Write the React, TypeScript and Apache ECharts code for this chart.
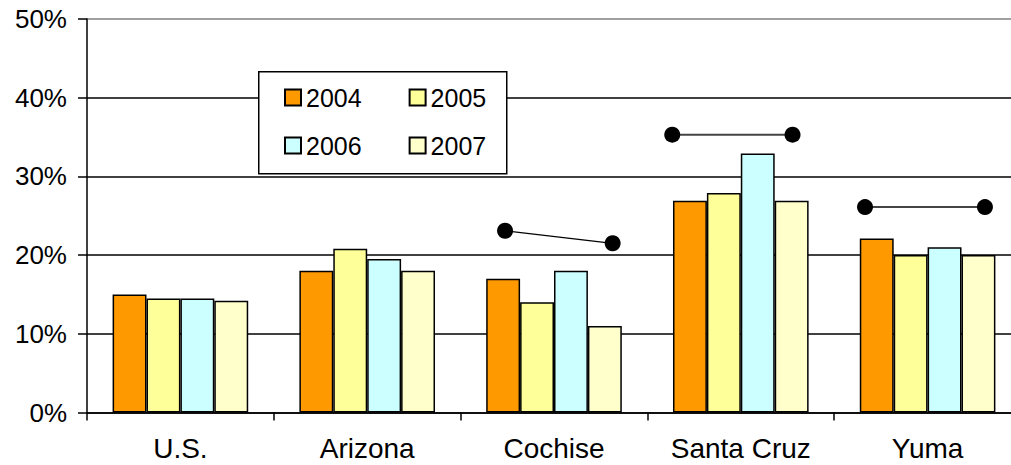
import React, { useEffect, useRef } from "react";
import * as echarts from "echarts";

const categories = ["U.S.", "Arizona", "Cochise", "Santa Cruz", "Yuma"];
const years = ["2004", "2005", "2006", "2007"];
const v2004 = [15.0, 18.0, 17.0, 26.9, 22.1];
const v2005 = [14.5, 20.8, 14.0, 27.9, 20.0];
const v2006 = [14.5, 19.5, 18.0, 32.9, 21.0];
const v2007 = [14.2, 18.0, 11.0, 26.9, 20.0];
const barColors = ["#FF9900", "#FFFF99", "#CCFFFF", "#FFFFCC"];
const yTicks = [0, 10, 20, 30, 40, 50];

// Marker pairs: [position along category axis (category index + fraction), value %]
const cochiseDots = [[2.238, 23.1], [2.814, 21.5]];
const santaCruzDots = [[3.133, 35.3], [3.777, 35.3]];
const yumaDots = [[4.165, 26.1], [4.807, 26.1]];

const FONT = "'Liberation Sans', Arial, sans-serif";

export default function App() {
  const ref = useRef<HTMLDivElement>(null);
  useEffect(() => {
    if (!ref.current) return;
    const chart = echarts.init(ref.current, null, { renderer: "svg" });
    const values = [v2004, v2005, v2006, v2007];
    const barSeries = years.map((y, i) => ({
      name: y,
      type: "bar",
      xAxisIndex: 0,
      yAxisIndex: 0,
      data: values[i],
      barGap: "0%",
      barCategoryGap: "27.4%",
      itemStyle: { color: barColors[i], borderColor: "#000", borderWidth: 1.5 },
      z: 2,
    }));
    const dotSeries = [
      { data: cochiseDots, lw: 1.2, lc: "#000" },
      { data: santaCruzDots, lw: 2, lc: "#444" },
      { data: yumaDots, lw: 2, lc: "#444" },
    ].map((d) => ({
      type: "line",
      xAxisIndex: 1,
      yAxisIndex: 0,
      data: d.data,
      symbol: "circle",
      symbolSize: 16,
      showSymbol: true,
      itemStyle: { color: "#000" },
      lineStyle: { color: d.lc, width: d.lw },
      z: 5,
      silent: true,
    }));
    const legendBase = {
      left: 284,
      padding: 0,
      icon: "rect",
      itemWidth: 16,
      itemHeight: 16,
      itemGap: 47,
      textStyle: { fontSize: 25, color: "#000", fontFamily: FONT },
      selectedMode: false,
      z: 20,
    };
    chart.setOption({
      animation: false,
      backgroundColor: "#fff",
      textStyle: { fontFamily: FONT },
      grid: { left: 87, right: 0, top: 19, bottom: 52.5, containLabel: false },
      xAxis: [
        {
          type: "category",
          data: categories,
          axisLine: { lineStyle: { color: "#000", width: 1.5 } },
          axisTick: { show: true, length: 8, lineStyle: { color: "#000", width: 1.5 } },
          axisLabel: { color: "#000", fontSize: 28, fontFamily: FONT, margin: 22, interval: 0 },
        },
        {
          type: "value",
          min: 0,
          max: 5,
          show: false,
        },
      ],
      yAxis: {
        type: "value",
        min: 0,
        max: 50,
        interval: 10,
        axisLine: { show: true, lineStyle: { color: "#000", width: 1.5 } },
        axisTick: { show: true, length: 9, lineStyle: { color: "#000", width: 1.5 } },
        axisLabel: {
          color: "#000",
          fontSize: 26,
          fontFamily: FONT,
          margin: 20,
          formatter: (v: number) => (yTicks.includes(v) ? v + "%" : ""),
        },
        splitLine: {
          show: true,
          lineStyle: { color: ["#000", "#000", "#000", "#000", "#000", "#808080"], width: 1.5 },
        },
      },
      legend: [
        { ...legendBase, data: years.slice(0, 2), top: 85 },
        { ...legendBase, data: years.slice(2, 4), top: 133 },
      ],
      graphic: [
        {
          type: "rect",
          left: 258,
          top: 71,
          shape: { width: 248, height: 102 },
          style: { fill: "#fff", stroke: "#000", lineWidth: 1.5 },
          z: 3,
        },
      ],
      series: [...barSeries, ...dotSeries],
    });
    return () => chart.dispose();
  }, []);
  return (
    <div
      style={{ position: "fixed", left: 0, top: 0, width: 1011, height: 465, overflow: "hidden", background: "#fff" }}
    >
      <div ref={ref} style={{ width: 1021, height: 465 }} />
    </div>
  );
}
